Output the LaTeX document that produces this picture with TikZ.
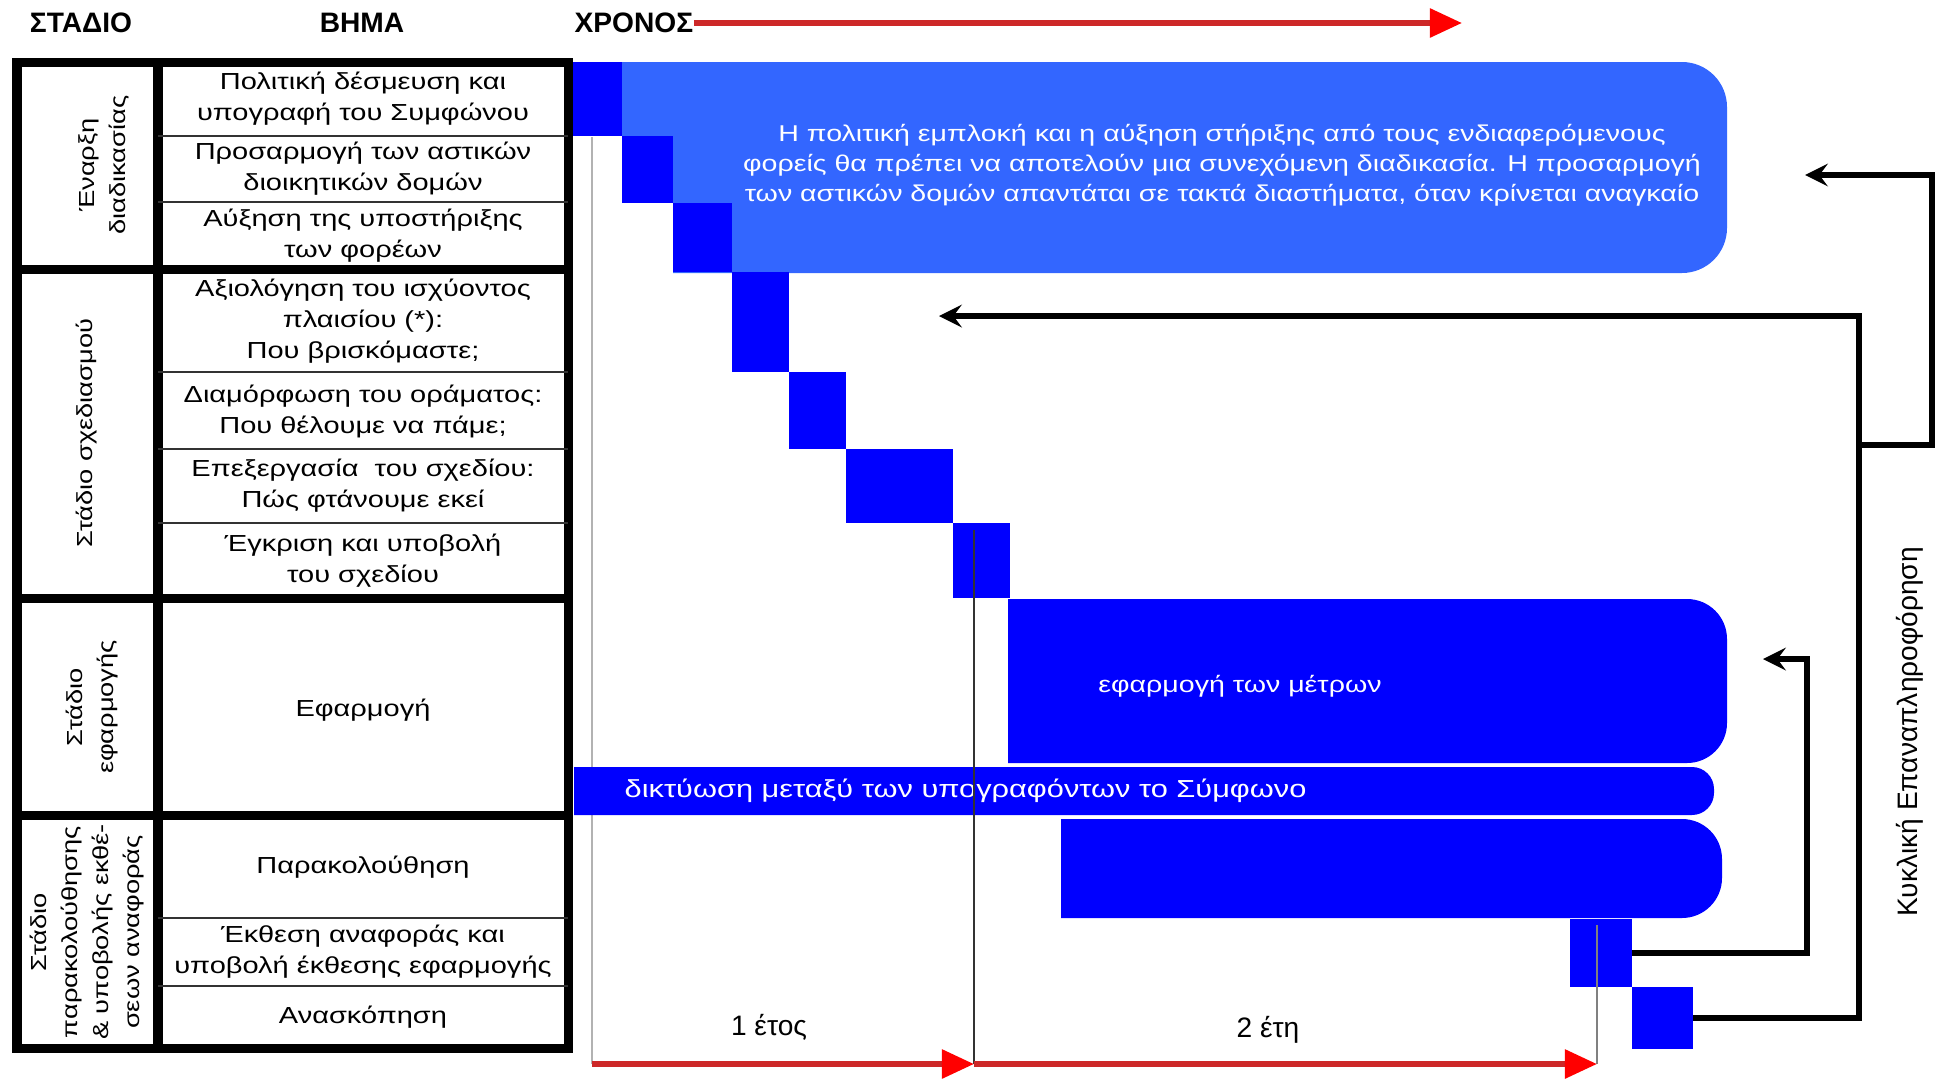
\documentclass[tikz,border=0pt]{standalone}
\usepackage{fontspec}
\setmainfont{Liberation Sans}
\newfontfamily\widefont{Liberation Sans}[FakeStretch=1.25]
\usetikzlibrary{arrows.meta}
\definecolor{barblue}{RGB}{0,0,255}
\definecolor{softblue}{RGB}{51,102,255}
\definecolor{timered}{RGB}{205,40,40}
\tikzset{
  tblframe/.style={line width=0.09cm},
  rowline/.style={line width=0.6pt, black!80},
  steptext/.style={font=\widefont\fontsize{6.6}{8.8}\selectfont, align=center, inner sep=0pt},
  stagetext/.style={font=\widefont\fontsize{6.2}{8.8}\selectfont, align=center, rotate=90, inner sep=0pt},
  headtext/.style={font=\bfseries\fontsize{8}{9}\selectfont, inner sep=0pt},
  bartext/.style={font=\widefont\fontsize{6.5}{8.6}\selectfont, text=white, align=center, inner sep=0pt},
  timearrow/.style={line width=1.6pt, timered, -{Triangle[length=0.32cm,width=0.28cm,color=red]}},
  backline/.style={line width=1.8pt, ->},
  sqbox/.style={fill=barblue, inner sep=0pt, anchor=north west},
}
\begin{document}
\begin{tikzpicture}[x=0.01cm, y=-0.01cm, >=stealth]
\useasboundingbox (0,0) rectangle (1945,1078);

% headers
\node (hstage) at (81,23) [headtext] {ΣΤΑΔΙΟ};
\node (hstep) at (362,23) [headtext] {ΒΗΜΑ};
\node (htime) at (574,23) [headtext, anchor=west] {ΧΡΟΝΟΣ};
\coordinate (tend) at (1462,23);
\draw[timearrow] (htime.east) -- (tend);

% guide line of the start
\draw[gray!60, line width=0.5pt] (592,137) -- (592,1064);

% blue bars
\fill[softblue] (622,62) -- (1300,62) [rounded corners=0.45cm] -- (1727,62) -- (1727,273) -- (1300,273) [sharp corners] -- (673,273) -- (673,136) -- (622,136) -- cycle;
\foreach \xa/\ya/\xb/\yb in {573/62/622/136, 622/136/673/203, 673/203/732/272, 732/272/789/372,
  789/372/846/449, 846/449/953/523, 953/523/1010/598}
  \fill[barblue] (\xa,\ya) rectangle (\xb,\yb);
\fill[barblue] (1008,599) -- (1400,599) [rounded corners=0.4cm] -- (1727,599) -- (1727,763) -- (1400,763) [sharp corners] -- (1008,763) -- cycle;
\fill[barblue] (574,767) -- (1400,767) [rounded corners=0.22cm] -- (1714,767) -- (1714,815) -- (1400,815) [sharp corners] -- (574,815) -- cycle;
\fill[barblue] (1061,819) -- (1400,819) [rounded corners=0.4cm] -- (1722,819) -- (1722,918) -- (1400,918) [sharp corners] -- (1061,918) -- cycle;
\node (rep) at (1569,918) [sqbox, minimum width=0.62cm, minimum height=0.68cm] {};
\node (rev) at (1631,986) [sqbox, minimum width=0.61cm, minimum height=0.62cm] {};

\node (boxtxt) at (1222,165) [bartext] {Η πολιτική εμπλοκή και η αύξηση στήριξης από τους ενδιαφερόμενους\\
  φορείς θα πρέπει να αποτελούν μια συνεχόμενη διαδικασία. Η προσαρμογή\\
  των αστικών δομών απαντάται σε τακτά διαστήματα, όταν κρίνεται αναγκαίο};
\node (impltxt) at (1240,686) [bartext] {εφαρμογή των μέτρων};
\node (nettxt) at (624,791) [bartext, anchor=west, font=\widefont\fontsize{7}{8}\selectfont] {δικτύωση μεταξύ των υπογραφόντων το Σύμφωνο};

% table
\draw[tblframe] (17,62) rectangle (568,269);
\draw[tblframe] (17,269) rectangle (568,598);
\draw[tblframe] (17,598) rectangle (568,815);
\draw[tblframe] (17,815) rectangle (568,1048);
\draw[tblframe] (158,62) -- (158,1048);
\foreach \yr in {136,202,372,449,523,918,986}
  \draw[rowline] (158,\yr) -- (568,\yr);

\node (st1) at (104,165) [stagetext] {Έναρξη\\ διαδικασίας};
\node (st2) at (87,433) [stagetext] {Στάδιο σχεδιασμού};
\node (st3) at (92,707) [stagetext] {Στάδιο\\ εφαρμογής};
\node (st4) at (87,932) [stagetext] {Στάδιο\\ παρακολούθησης\\ \& υποβολής εκθέ-\\ σεων αναφοράς};

\node (s1) at (363,99) [steptext] {Πολιτική δέσμευση και\\ υπογραφή του Συμφώνου};
\node (s2) at (363,169) [steptext] {Προσαρμογή των αστικών\\ διοικητικών δομών};
\node (s3) at (363,236) [steptext] {Αύξηση της υποστήριξης\\ των φορέων};
\node (s4) at (363,321) [steptext] {Αξιολόγηση του ισχύοντος\\ πλαισίου (*):\\ Που βρισκόμαστε;};
\node (s5) at (363,411) [steptext] {Διαμόρφωση του οράματος:\\ Που θέλουμε να πάμε;};
\node (s6) at (363,486) [steptext] {Επεξεργασία\ \ του σχεδίου:\\ Πώς φτάνουμε εκεί};
\node (s7) at (363,561) [steptext] {Έγκριση και υποβολή\\ του σχεδίου};
\node (s8) at (363,710) [steptext] {Εφαρμογή};
\node (s9) at (363,867) [steptext] {Παρακολούθηση};
\node (s10) at (363,952) [steptext] {Έκθεση αναφοράς και\\ υποβολή έκθεσης εφαρμογής};
\node (s11) at (363,1017) [steptext] {Ανασκόπηση};

% feedback loops
\coordinate (cA) at (1807,659);
\coordinate (tipA) at (1763,659);
\draw[backline] (rep.east) -| (cA) -- (tipA);
\coordinate (cB) at (1859,316);
\coordinate (tipB) at (939,316);
\draw[backline] (rev.east) -| (cB) -- (tipB);
\coordinate (jC) at (1859,445);
\coordinate (cC) at (1932,175);
\coordinate (tipC) at (1805,175);
\draw[backline] (jC) -| (cC) -- (tipC);
\node (cyc) at (1910,732) [rotate=90, font=\fontsize{8}{9}\selectfont] {Κυκλική Επαναπληροφόρηση};

% time scale
\coordinate (t0) at (592,1064);
\coordinate (t1) at (974,1064);
\coordinate (t2) at (1597,1064);
\draw[black!80, line width=0.5pt] (974,530) -- (t1);
\draw[gray, line width=0.5pt] (1597,925) -- (t2);
\draw[timearrow] (t0) -- (t1);
\draw[timearrow] (t1) -- (t2);
\node (yr1) at (769,1027) [font=\fontsize{8}{9}\selectfont] {1 έτος};
\node (yr2) at (1268,1030) [font=\fontsize{8}{9}\selectfont] {2 έτη};
\end{tikzpicture}
\end{document}
